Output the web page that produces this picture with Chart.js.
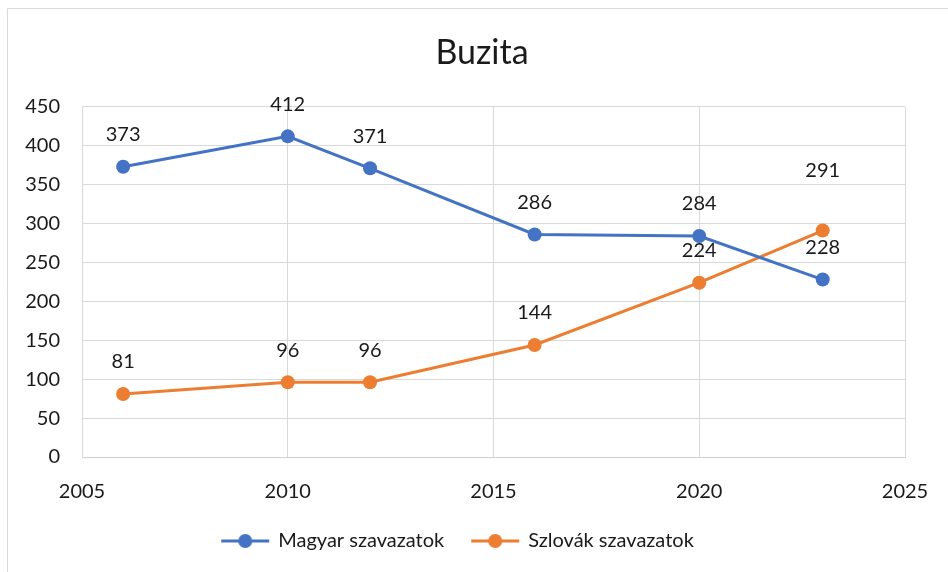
<!DOCTYPE html>
<html>
<head>
<meta charset="utf-8">
<script src="https://cdn.jsdelivr.net/npm/chart.js@4/dist/chart.umd.min.js"></script>
<style>
  html, body { margin: 0; padding: 0; background: #fff; }
  #wrap { width: 948px; height: 572px; }
</style>
</head>
<body>
<div id="wrap"><canvas id="chart" width="948" height="572"></canvas></div>
<script>
const years = [2006, 2010, 2012, 2016, 2020, 2023];
const magyar = [373, 412, 371, 286, 284, 228];
const szlovak = [81, 96, 96, 144, 224, 291];
const seriesNames = ['Magyar szavazatok', 'Szlovák szavazatok'];

const BLUE = '#4472C4';
const ORANGE = '#ED7D31';
const FONT = 'Lato';

function pairs(xs, ys) {
    return xs.map((x, i) => ({ x: x, y: ys[i] }));
}

// line + dot swatch for the legend
function swatch(color) {
    const c = document.createElement('canvas');
    c.width = 54;
    c.height = 18;
    const g = c.getContext('2d');
    g.strokeStyle = color;
    g.lineWidth = 3;
    g.beginPath();
    g.moveTo(3, 9);
    g.lineTo(51, 9);
    g.stroke();
    g.fillStyle = color;
    g.beginPath();
    g.arc(27, 9, 7, 0, Math.PI * 2);
    g.fill();
    return c;
}

// value labels above each marker
const valueLabels = {
    id: 'valueLabels',
    afterDatasetsDraw(chart) {
        const ctx = chart.ctx;
        ctx.save();
        ctx.font = '20px ' + FONT;
        ctx.fillStyle = '#1a1a1a';
        ctx.textAlign = 'center';
        ctx.textBaseline = 'middle';
        chart.data.datasets.forEach((ds, di) => {
            const meta = chart.getDatasetMeta(di);
            const lift = ds.labelLift || [];
            meta.data.forEach((pt, i) => {
                ctx.fillText(String(ds.data[i].y), pt.x, pt.y - 32 - (lift[i] || 0));
            });
        });
        ctx.restore();
    }
};

// thin frame on the left and top edge, legend nudged into place
const frame = {
    id: 'frame',
    beforeDraw(chart) {
        const ctx = chart.ctx;
        ctx.save();
        ctx.strokeStyle = '#d9d9d9';
        ctx.lineWidth = 1;
        ctx.beginPath();
        ctx.moveTo(7.5, chart.height);
        ctx.lineTo(7.5, 8.5);
        ctx.lineTo(chart.width, 8.5);
        ctx.stroke();
        ctx.restore();
    },
    afterLayout(chart) {
        const lg = chart.legend;
        lg.left -= 24;
        lg.right -= 24;
        lg.top -= 2;
        lg.bottom -= 2;
    }
};

new Chart(document.getElementById('chart'), {
    type: 'line',
    data: {
        datasets: [{
            label: seriesNames[0],
            data: pairs(years, magyar),
            borderColor: BLUE,
            backgroundColor: BLUE,
            borderWidth: 3,
            pointRadius: 7,
            pointHoverRadius: 7,
            pointBorderWidth: 0
        }, {
            label: seriesNames[1],
            data: pairs(years, szlovak),
            borderColor: ORANGE,
            backgroundColor: ORANGE,
            borderWidth: 3,
            pointRadius: 7,
            pointHoverRadius: 7,
            pointBorderWidth: 0,
            labelLift: [0, 0, 0, 0, 0, 28]
        }]
    },
    options: {
        responsive: false,
        animation: false,
        layout: { padding: { left: 16, right: 0, top: 0, bottom: 9 } },
        scales: {
            x: {
                type: 'linear',
                min: 2005,
                max: 2025,
                ticks: {
                    stepSize: 5,
                    padding: 23,
                    color: '#1a1a1a',
                    font: { family: FONT, size: 20 },
                    callback: v => String(v)
                },
                grid: { color: '#d9d9d9', drawTicks: false },
                border: { color: '#d0d0d0' },
                afterFit(scale) {
                    scale.paddingRight = 43;
                    scale.height = 48;
                }
            },
            y: {
                min: 0,
                max: 450,
                ticks: {
                    stepSize: 50,
                    padding: 22,
                    color: '#1a1a1a',
                    font: { family: FONT, size: 20 }
                },
                grid: { color: '#d9d9d9', drawTicks: false },
                border: { color: '#d9d9d9' },
                afterFit(scale) {
                    scale.width = 66;
                }
            }
        },
        plugins: {
            title: {
                display: true,
                text: 'Buzita',
                color: '#1a1a1a',
                font: { family: FONT, size: 34, weight: 'normal' },
                padding: { top: 33, bottom: 33 }
            },
            legend: {
                position: 'bottom',
                labels: {
                    usePointStyle: true,
                    pointStyleWidth: 46,
                    padding: 28,
                    color: '#1a1a1a',
                    font: { family: FONT, size: 20 },
                    generateLabels(chart) {
                        return chart.data.datasets.map((ds, i) => ({
                            text: ds.label,
                            pointStyle: swatch(ds.borderColor),
                            fontColor: '#1a1a1a',
                            lineWidth: 0,
                            hidden: false,
                            datasetIndex: i
                        }));
                    }
                }
            },
            tooltip: { enabled: false }
        }
    },
    plugins: [valueLabels, frame]
});
</script>
</body>
</html>
